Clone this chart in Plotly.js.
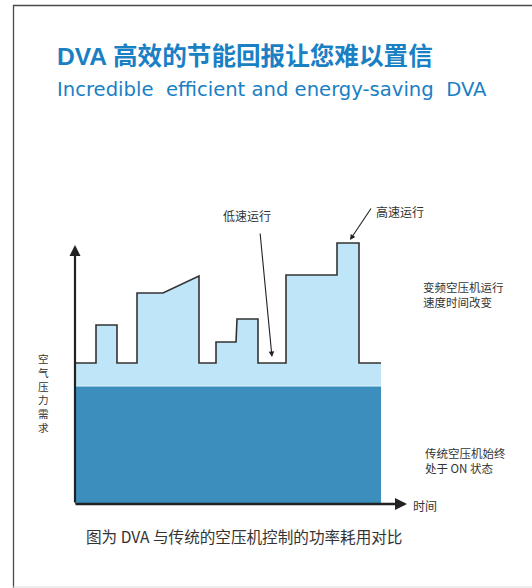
<!DOCTYPE html>
<html>
<head>
<meta charset="utf-8">
<script src="https://cdn.plot.ly/plotly-3.0.1.min.js"></script>
<style>html,body{margin:0;padding:0;background:#fff;}#chart{width:532px;height:588px;}</style>
</head>
<body>
<div id="chart"></div>
<script>
// ---- data (time units vs. air pressure demand) ----
const vsdTime   = [0,21,21,42,42,62,62,88,124,124,141,141,161,162,183,183,211,211,262,262,284,284,306];
const vsdDemand = [141,141,179,179,141,141,211,211,228,141,141,162,162,185,185,141,141,229,229,261,261,141,141];
const fixedTime  = [0,306];
const fixedLevel = [118,118];
const axisEnd = {x: 332, y: 259};

const titleCN = 'DVA 高效的节能回报让您难以置信';
const titleEN = 'Incredible&nbsp; efficient and energy-saving&nbsp; DVA';
const yLabel = '空气压力需求';
const xLabel = '时间';
const lowLabel = '低速运行';
const highLabel = '高速运行';
const vsdNote = ['变频空压机运行','速度时间改变'];
const fixedNote = ['传统空压机始终','处于 ON 状态'];
const caption = '图为 DVA 与传统的空压机控制的功率耗用对比';

const W = 532, H = 588;
const px = v => v / W;
const py = v => 1 - v / H;
const CN = '"Noto Sans CJK SC", "Liberation Sans", sans-serif';
const TXT = '#333333';
const BLUE = '#1a80c4';

const traces = [
  {x: vsdTime, y: vsdDemand, type: 'scatter', mode: 'lines', fill: 'tozeroy',
   fillcolor: '#bee6f8', line: {color: '#333333', width: 1.6}, hoverinfo: 'skip'},
  {x: fixedTime, y: fixedLevel, type: 'scatter', mode: 'lines', fill: 'tozeroy',
   fillcolor: '#3c8fbd', line: {color: '#e6f4fb', width: 1}, hoverinfo: 'skip'}
];

const ann = [];
function txt(text, x, y, size, opts) {
  ann.push(Object.assign({text: text, xref: 'paper', yref: 'paper', x: px(x), y: py(y),
    xanchor: 'left', yanchor: 'middle', showarrow: false, borderpad: 0,
    font: {family: CN, size: size, color: TXT}}, opts || {}));
}
txt('<b>' + titleCN + '</b>', 56, 56, 24.6, {font: {family: '"Liberation Sans", "Noto Sans CJK SC", sans-serif', size: 24.6, color: BLUE}});
txt(titleEN, 56, 89, 19.6, {font: {family: '"DejaVu Sans", sans-serif', size: 19.6, color: BLUE}});
// vertical y label, one character per row
txt(Array.from(yLabel).join('<br>'), 43, 393, 10.6, {xanchor: 'center'});
txt(xLabel, 412, 505, 12);
txt(lowLabel, 222, 215, 12);
txt(highLabel, 375, 212, 12);
txt(vsdNote.join('<br>'), 422, 294, 11.5, {align: 'left'});
txt(fixedNote.join('<br>'), 424, 460, 11.5, {align: 'left'});
txt(caption, 85, 536, 15.6);

// axis arrows and pointer arrows (data coordinates)
function arrow(x0, y0, x1, y1, w, head) {
  ann.push({x: x1, y: y1, ax: x0, ay: y0, xref: 'x', yref: 'y', axref: 'x', ayref: 'y',
    text: '', showarrow: true, arrowhead: head, arrowsize: 1, arrowwidth: w,
    arrowcolor: '#222222', standoff: 0, startstandoff: 0});
}
arrow(0, 0, 0, axisEnd.y, 2.2, 2);
arrow(-1, 0, axisEnd.x, 0, 2.4, 2);
arrow(185, 272, 197, 147, 1.1, 2);
arrow(297, 297, 275, 264, 1.1, 2);

const shapes = [
  {type: 'line', xref: 'paper', yref: 'paper', x0: px(13.5), x1: px(13.5), y0: py(5), y1: 0, line: {color: '#4a4a4a', width: 1.3}},
  {type: 'line', xref: 'paper', yref: 'paper', x0: px(13), x1: 1, y0: py(5.5), y1: py(5.5), line: {color: '#4a4a4a', width: 1.3}},
  {type: 'line', xref: 'paper', yref: 'paper', x0: px(13), x1: 1, y0: py(587), y1: py(587), line: {color: '#dddddd', width: 1.2}}
];

const layout = {
  width: W, height: H, margin: {l: 0, r: 0, t: 0, b: 0},
  paper_bgcolor: '#ffffff', plot_bgcolor: '#ffffff', showlegend: false,
  xaxis: {range: [-75, 457], visible: false, fixedrange: true},
  yaxis: {range: [-84, 504], visible: false, fixedrange: true},
  annotations: ann, shapes: shapes
};
Plotly.newPlot('chart', traces, layout, {staticPlot: true, displayModeBar: false});
</script>
</body>
</html>
